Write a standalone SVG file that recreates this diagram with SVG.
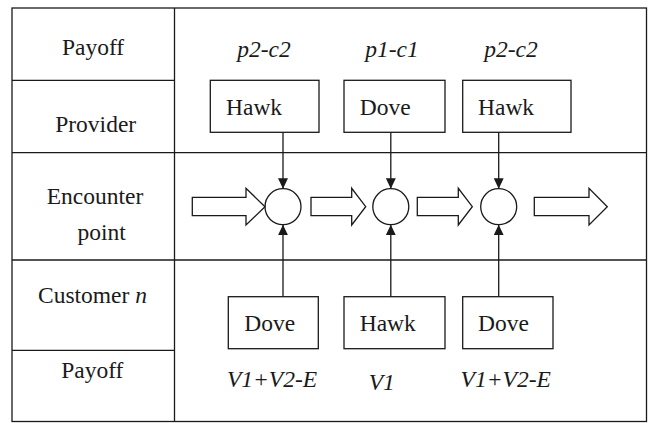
<svg xmlns="http://www.w3.org/2000/svg" width="648" height="423" viewBox="0 0 648 423">
<style>
.ln{stroke:#1a1a1a;stroke-width:1.3;fill:none}
.box{stroke:#1a1a1a;stroke-width:1.3;fill:#fff}
.t{font-size:23.5px;fill:#1a1a1a}
.i{font-style:italic}
.m{text-anchor:middle}
.blk{stroke:#1a1a1a;stroke-width:1.3;fill:#fff;stroke-linejoin:miter}
</style>
<defs>
<marker id="ah" markerUnits="userSpaceOnUse" markerWidth="11" markerHeight="10" refX="10.5" refY="5" orient="auto">
<path d="M0,0 L10.5,5 L0,10 z" fill="#1a1a1a"/>
</marker>
</defs>
<rect width="648" height="423" fill="#fff"/>
<g id="table">
<rect class="ln" x="12" y="8" width="634.5" height="413.5"/>
<line class="ln" x1="174.5" y1="8" x2="174.5" y2="421.5"/>
<line class="ln" x1="12" y1="152.7" x2="646.5" y2="152.7"/>
<line class="ln" x1="12" y1="260" x2="646.5" y2="260"/>
<line class="ln" x1="12" y1="80.3" x2="174.5" y2="80.3"/>
<line class="ln" x1="12" y1="350.3" x2="174.5" y2="350.3"/>
</g>
<g font-family="Liberation Serif, Times New Roman, serif">
<g id="row-labels">
<text class="t m" x="93" y="55">Payoff</text>
<text class="t m" x="95.7" y="131.7">Provider</text>
<text class="t m" x="95" y="204">Encounter</text>
<text class="t m" x="101.7" y="240">point</text>
<text class="t m" x="92.5" y="303">Customer <tspan class="i">n</tspan></text>
<text class="t m" x="92.3" y="378">Payoff</text>
</g>
<g id="provider-payoffs">
<text class="t i m" x="264" y="57">p2-c2</text>
<text class="t i m" x="392" y="56.5">p1-c1</text>
<text class="t i m" x="511" y="56.5">p2-c2</text>
</g>
<g id="provider1"><rect class="box" x="210.3" y="80.3" width="108.7" height="52"/><text class="t" x="226" y="115">Hawk</text></g>
<g id="provider2"><rect class="box" x="344" y="80.3" width="101" height="52"/><text class="t" x="359.7" y="115">Dove</text></g>
<g id="provider3"><rect class="box" x="462.7" y="80.3" width="108.3" height="52"/><text class="t" x="478" y="115">Hawk</text></g>
<g id="encounter1"><circle class="box" cx="283" cy="206.7" r="18"/></g>
<g id="encounter2"><circle class="box" cx="390.8" cy="206.7" r="18"/></g>
<g id="encounter3"><circle class="box" cx="498.7" cy="206.7" r="18"/></g>
<g id="customer1"><rect class="box" x="228.3" y="296.7" width="90" height="52"/><text class="t" x="244.3" y="331">Dove</text></g>
<g id="customer2"><rect class="box" x="344" y="296.7" width="101" height="52"/><text class="t" x="359.7" y="331">Hawk</text></g>
<g id="customer3"><rect class="box" x="462.7" y="296.7" width="90.3" height="52"/><text class="t" x="478" y="331">Dove</text></g>
<g id="customer-payoffs">
<text class="t i m" x="272" y="387">V1+V2-E</text>
<text class="t i m" x="381.7" y="390">V1</text>
<text class="t i m" x="505.7" y="387">V1+V2-E</text>
</g>
</g>
<g id="connectors">
<line class="ln" x1="283" y1="132.3" x2="283" y2="188.7" marker-end="url(#ah)"/>
<line class="ln" x1="390.8" y1="132.3" x2="390.8" y2="188.7" marker-end="url(#ah)"/>
<line class="ln" x1="498.7" y1="132.3" x2="498.7" y2="188.7" marker-end="url(#ah)"/>
<line class="ln" x1="283" y1="296.7" x2="283" y2="224.7" marker-end="url(#ah)"/>
<line class="ln" x1="390.8" y1="296.7" x2="390.8" y2="224.7" marker-end="url(#ah)"/>
<line class="ln" x1="498.7" y1="296.7" x2="498.7" y2="224.7" marker-end="url(#ah)"/>
<polygon class="blk" points="192.3,197.3 246,197.3 246,188.3 265,206.7 246,225 246,215.7 192.3,215.7"/>
<polygon class="blk" points="311,197.3 351.7,197.3 351.7,188.3 365.7,206.7 351.7,225 351.7,215.7 311,215.7"/>
<polygon class="blk" points="417.3,197.3 458.3,197.3 458.3,188.3 472.3,206.7 458.3,225 458.3,215.7 417.3,215.7"/>
<polygon class="blk" points="534.3,197.3 589,197.3 589,188.3 607.3,206.7 589,225 589,215.7 534.3,215.7"/>
</g>
</svg>
